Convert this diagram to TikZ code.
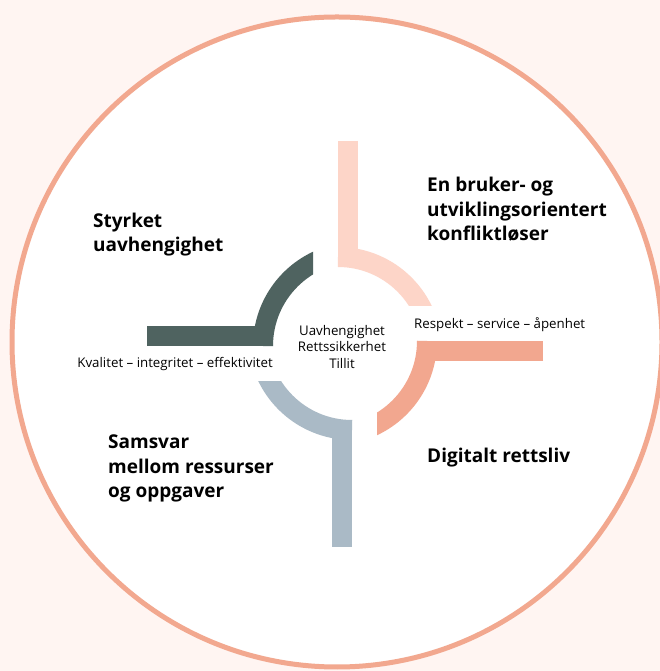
\documentclass[tikz,border=0pt]{standalone}
\usepackage{fontspec}
\setmainfont{Open Sans}
\definecolor{bg}{HTML}{FFF5F2}
\definecolor{ring}{HTML}{F2A88F}
\definecolor{peach}{HTML}{FDD5C8}
\definecolor{salmon}{HTML}{F2A78F}
\definecolor{steel}{HTML}{AABAC6}
\definecolor{slate}{HTML}{4F6360}
\begin{document}
\begin{tikzpicture}[x=1pt,y=1pt,
  band/.style={line width=20pt},
  head/.style={font=\fontsize{19}{24.5}\selectfont\bfseries,align=left,inner sep=0pt},
  small/.style={font=\fontsize{13.3}{16.5}\selectfont,inner sep=0pt}]

\fill[bg] (0,0) rectangle (660,671);
\useasboundingbox (0,0) rectangle (660,671);
\draw[ring,line width=5pt,fill=white] (337,329) circle (325);

% each band is clipped where its arc ends
\begin{scope}
\clip (300,365) rectangle (460,540);
\draw[band,peach] (348,530) -- (348,404);
\draw[band,peach] (338,414) arc (90:0:94);
\end{scope}
\begin{scope}
\clip (377,220) rectangle (550,360);
\draw[band,salmon] (543,320) -- (417,320);
\draw[band,salmon] (427,330) arc (0:-90:94);
\end{scope}
\begin{scope}
\clip (240,120) rectangle (400,289);
\draw[band,steel] (342,124) -- (342,251);
\draw[band,steel] (352,241) arc (-90:-180:94);
\end{scope}
\begin{scope}
\clip (140,300) rectangle (313,440);
\draw[band,slate] (147,335) -- (273,335);
\draw[band,slate] (263,325) arc (180:90:94);
\end{scope}

\node[small,align=center] (v1) at (342,324) {Uavhengighet\\Rettssikkerhet\\Tillit};
\node[small,anchor=base west] (v2) at (414,342) {Respekt – service – åpenhet};
\node[small,anchor=base east] (v3) at (273,303) {Kvalitet – integritet – effektivitet};
\node[head,anchor=base west] (v4) at (93,419) {Styrket\\uavhengighet};
\node[head,anchor=base west] (v5) at (427,430) {En bruker- og\\utviklingsorientert\\konfliktløser};
\node[head,anchor=base west] (v6) at (108,173) {Samsvar\\mellom ressurser\\og oppgaver};
\node[head,anchor=base west] (v7) at (427,208) {Digitalt rettsliv};
\end{tikzpicture}
\end{document}
